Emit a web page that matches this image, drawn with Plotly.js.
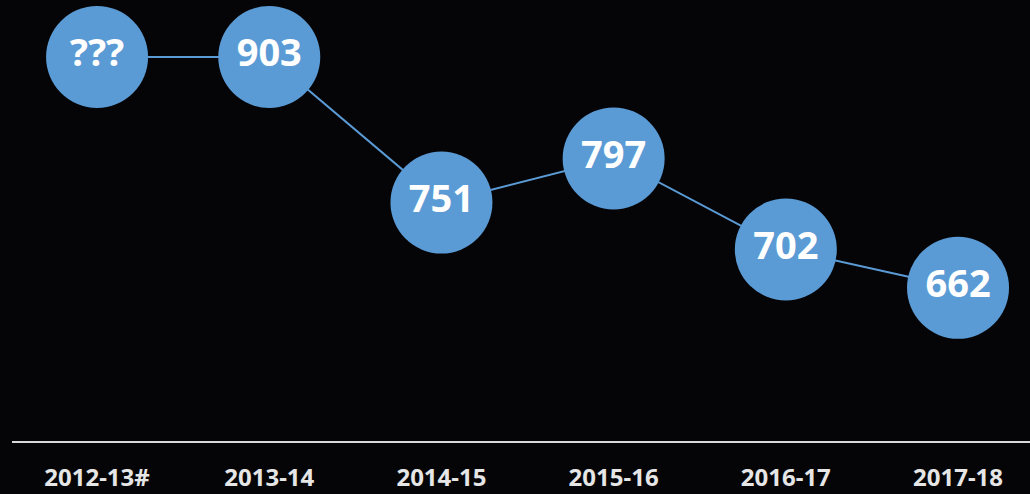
<!DOCTYPE html>
<html>
<head>
<meta charset="utf-8">
<script src="https://cdn.plot.ly/plotly-3.0.1.min.js"></script>
<style>
  html, body { margin: 0; padding: 0; background: #050508; }
  #chart { width: 1030px; height: 494px; }
</style>
</head>
<body>
<div id="chart"></div>
<script>
const categories = ["2012-13#", "2013-14", "2014-15", "2015-16", "2016-17", "2017-18"];
const values = [903, 903, 751, 797, 702, 662];
const pointLabels = ["???", "903", "751", "797", "702", "662"];

const trace = {
  type: "scatter",
  mode: "lines+markers+text",
  x: categories,
  y: values,
  text: pointLabels,
  textposition: "middle center",
  textfont: { family: "Noto Sans, DejaVu Sans, sans-serif", size: 38, color: "#ffffff", weight: 700 },
  line: { color: "#5B9BD5", width: 2 },
  marker: { size: 102, color: "#5B9BD5", line: { width: 0 } },
  cliponaxis: false,
  hoverinfo: "skip"
};

const layout = {
  width: 1030,
  height: 494,
  paper_bgcolor: "#050508",
  plot_bgcolor: "#050508",
  margin: { l: 12, r: 0, t: 0, b: 53 },
  showlegend: false,
  xaxis: {
    type: "category",
    range: [-0.494, 5.418],
    showgrid: false,
    zeroline: false,
    showline: true,
    linecolor: "#d9d9d9",
    linewidth: 2,
    ticks: "",
    ticklabelstandoff: 14,
    tickfont: { family: "Noto Sans, DejaVu Sans, sans-serif", size: 24, color: "#e6e6e6", weight: 700 },
    fixedrange: true
  },
  yaxis: {
    range: [502, 962.5],
    visible: false,
    showgrid: false,
    zeroline: false,
    fixedrange: true
  }
};

Plotly.newPlot("chart", [trace], layout, { displayModeBar: false, staticPlot: true });
</script>
</body>
</html>
